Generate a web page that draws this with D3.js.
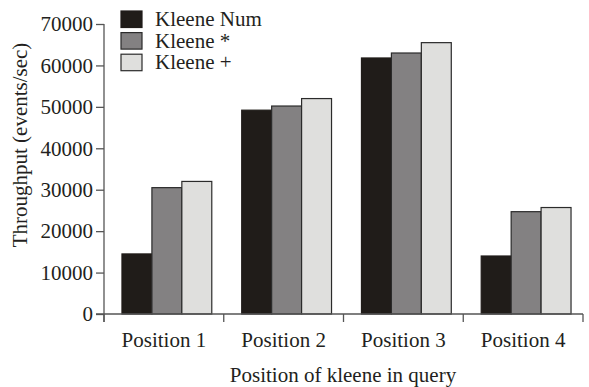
<!DOCTYPE html>
<html><head><meta charset="utf-8">
<script src="https://cdn.jsdelivr.net/npm/d3@7"></script>
<style>body{margin:0;background:#fff}</style>
</head><body><svg id="c" width="589" height="387"></svg>
<script>
const categories = ["Position 1","Position 2","Position 3","Position 4"];
const seriesNames = ["Kleene Num","Kleene *","Kleene +"];
const kleeneNum = [14500, 49200, 61800, 14000];
const kleeneStar = [30500, 50200, 63000, 24700];
const kleenePlus = [32000, 52000, 65500, 25700];
const yTicks = [0,10000,20000,30000,40000,50000,60000,70000];
const colors = ["#201c19","#838182","#dfdfdd"];
const series = [kleeneNum, kleeneStar, kleenePlus];
const FONT = "'Liberation Serif'";
const FS = "21px";

const svg = d3.select("#c");
const m = {l:104, r:583, t:24, b:314};
const x = d3.scaleBand().domain(categories).range([m.l, m.r]).paddingInner(0).paddingOuter(0);
const y = d3.scaleLinear().domain([0,70000]).range([m.b, m.t]);
const xs = d3.scaleBand().domain(d3.range(series.length)).range([0, x.bandwidth()]).paddingInner(0).paddingOuter(0.5);

categories.forEach((c,i)=>{
  series.forEach((s,j)=>{
    svg.append("rect")
      .attr("x", x(c)+xs(j)+3)
      .attr("y", y(s[i]))
      .attr("width", xs.bandwidth())
      .attr("height", y(0)-y(s[i]))
      .attr("fill", colors[j])
      .attr("stroke", j===0 ? colors[0] : "#2b2b2b")
      .attr("stroke-width", 1.2);
  });
});

const ya = svg.append("g").attr("transform",`translate(${m.l},0)`)
  .call(d3.axisLeft(y).tickValues(yTicks).tickFormat(d3.format("d")).tickSize(8).tickPadding(3));
ya.attr("font-family", FONT).attr("font-size", 21);
ya.select(".domain").attr("stroke","#555").attr("stroke-width",1.3).attr("d",`M0,${m.t}V${m.b+8}`);
ya.selectAll(".tick line").attr("stroke","#555").attr("stroke-width",1.3);
ya.selectAll(".tick text").style("font-family",FONT).style("font-size",FS).attr("fill","#231f20");

const xa = svg.append("g").attr("transform",`translate(0,${m.b})`);
xa.append("path").attr("d",`M${m.l-8},0H${m.r}`).attr("stroke","#555").attr("stroke-width",1.3).attr("fill","none");
d3.range(categories.length+1).forEach(i=>{
  const px = m.l + i*x.bandwidth();
  xa.append("line").attr("x1",px).attr("x2",px).attr("y1",0).attr("y2",8).attr("stroke","#555").attr("stroke-width",1.3);
});
categories.forEach(c=>{
  xa.append("text").attr("x", x(c)+x.bandwidth()/2).attr("y", 33).attr("text-anchor","middle")
    .style("font-family",FONT).style("font-size",FS).attr("fill","#231f20").text(c);
});

svg.append("text").attr("x",343).attr("y",382).attr("text-anchor","middle")
  .style("font-family",FONT).style("font-size",FS).attr("fill","#231f20").text("Position of kleene in query");
svg.append("text").attr("transform","translate(27,145) rotate(-90)").attr("text-anchor","middle")
  .style("font-family",FONT).style("font-size",FS).attr("fill","#231f20").text("Throughput (events/sec)");

seriesNames.forEach((n,j)=>{
  const ly = 11 + j*21.6;
  svg.append("rect").attr("x",121).attr("y",ly).attr("width",21).attr("height",16.5)
    .attr("fill",colors[j]).attr("stroke",j===0?colors[0]:"#2b2b2b").attr("stroke-width",1.2);
  svg.append("text").attr("x",155).attr("y",ly+15)
    .style("font-family",FONT).style("font-size",FS).attr("fill","#231f20").text(n);
});
</script></body></html>
